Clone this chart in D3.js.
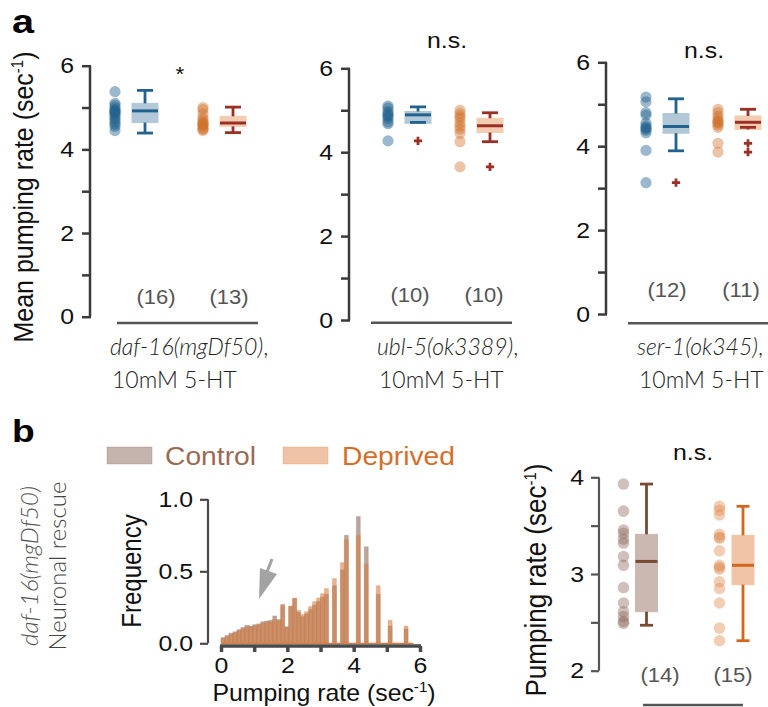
<!DOCTYPE html>
<html>
<head>
<meta charset="utf-8">
<script src="https://cdn.jsdelivr.net/npm/d3@7"></script>
<style>
  body { margin: 0; background: #fff; }
  text { font-family: "Liberation Sans", Arial, sans-serif; }
  .cat { font-family: Lato, "Open Sans", sans-serif; }
</style>
</head>
<body>
<div id="chart"></div>
<script>
// ---- DATA ----
// panel a: three genotypes, control vs deprived (mean pumping rate, sec^-1)
const genotypes = ["daf-16(mgDf50)", "ubl-5(ok3389)", "ser-1(ok345)"];
const sigLabels = ["*", "n.s.", "n.s."];

const ctrlDots = [
  [5.38, 5.1, 5.05, 5.0, 4.95, 4.92, 4.9, 4.88, 4.85, 4.8, 4.75, 4.7, 4.65, 4.6, 4.55, 4.45],
  [5.1, 5.05, 4.97, 4.92, 4.88, 4.85, 4.8, 4.72, 4.68, 4.27],
  [5.17, 5.06, 4.8, 4.74, 4.55, 4.48, 4.44, 4.42, 4.38, 4.32, 3.9, 3.13]
];
const depDots = [
  [5.0, 4.95, 4.85, 4.75, 4.7, 4.65, 4.62, 4.6, 4.58, 4.55, 4.5, 4.48, 4.45],
  [5.0, 4.92, 4.85, 4.8, 4.7, 4.62, 4.55, 4.45, 4.25, 3.65],
  [4.88, 4.8, 4.72, 4.65, 4.6, 4.57, 4.55, 4.5, 4.45, 4.07, 3.86]
];
// [lower whisker, q1, median, q3, upper whisker]
const ctrlBox = [
  [4.39, 4.64, 4.92, 5.1, 5.41],
  [4.71, 4.69, 4.89, 4.97, 5.08],
  [3.89, 4.31, 4.47, 4.78, 5.13]
];
const depBox = [
  [4.4, 4.55, 4.63, 4.79, 5.01],
  [4.25, 4.47, 4.63, 4.81, 4.94],
  [4.45, 4.4, 4.57, 4.72, 4.88]
];
const ctrlOut = [[], [4.27], [3.13]];
const depOut = [[], [3.65], [4.07, 3.86]];

// panel b histogram: bins of 0.12 from 0 to 6
const binWidth = 0.12;
const histCtrl = [0.04, 0.055, 0.07, 0.08, 0.095, 0.11, 0.125, 0.12, 0.13, 0.135,
  0.15, 0.155, 0.16, 0.19, 0.165, 0.27, 0.115, 0.255, 0.31, 0.215,
  0.185, 0.205, 0.235, 0.265, 0.29, 0.32, 0.34, 0, 0.40, 0,
  0.51, 0.75, 0, 0, 0.88, 0, 0.67, 0, 0, 0.34,
  0, 0, 0.12, 0, 0, 0, 0.10, 0, 0, 0];
const histDep = [0.03, 0.045, 0.06, 0.07, 0.085, 0.1, 0.115, 0.11, 0.12, 0.125,
  0.14, 0.145, 0.15, 0.165, 0.155, 0.26, 0.11, 0.26, 0.315, 0.23,
  0.2, 0.22, 0.255, 0.29, 0.315, 0.345, 0.38, 0, 0.45, 0,
  0.56, 0.72, 0, 0, 0.75, 0, 0.55, 0, 0, 0.40,
  0, 0, 0.16, 0, 0, 0, 0.12, 0, 0, 0];

// panel b right: neuronal rescue pumping rate
const rescueCtrl = [3.93, 3.65, 3.455, 3.42, 3.36, 3.32, 3.18, 3.09, 2.86, 2.70, 2.61, 2.56, 2.51, 2.49];
const rescueDep = [3.70, 3.66, 3.61, 3.41, 3.38, 3.37, 3.24, 3.09, 3.07, 3.05, 2.92, 2.85, 2.70, 2.44, 2.31];
const rescueCtrlBox = [2.47, 2.61, 3.13, 3.41, 3.93];
const rescueDepBox = [2.31, 2.89, 3.09, 3.40, 3.70];

// ---- SVG ----
const W = 768, H = 707;
const svg = d3.select("#chart").append("svg")
  .attr("width", W).attr("height", H);

const axisCol = "#3a3a3a";
const SX = 1.13; // the reference's lettering is a bit wider than Arial

// colours
const blue = "#22628e", blueBox = "#b2c8d7";
const orange = "#d0702a", peach = "#f3cdb2", darkRed = "#9b2f26";
const ctrlB = "#8c6a5c", ctrlBBox = "#cbb9b1", ctrlBLine = "#7a4a35";
const depB = "#d67e44", depBBox = "#f0c4a4", depBLine = "#d2671f";

// widen horizontal text by SX around its anchor point
function stretch(sel, s = SX) {
  sel.each(function () {
    const t = d3.select(this);
    const x = +t.attr("x") || 0, y = +t.attr("y") || 0;
    t.attr("x", 0).attr("y", 0).attr("transform", `translate(${x},${y}) scale(${s},1)`);
  });
}

// helper: draw one box with whiskers
function drawBox(g, x, y, st, w, capW, fill, line) {
  const [lo, q1, med, q3, hi] = st;
  g.append("rect")
    .attr("x", x - w / 2).attr("y", y(q3))
    .attr("width", w).attr("height", y(q1) - y(q3))
    .attr("fill", fill).attr("stroke", fill).attr("stroke-width", 1);
  g.append("line").attr("x1", x).attr("x2", x).attr("y1", y(q3)).attr("y2", y(hi))
    .attr("stroke", line).attr("stroke-width", 2.8);
  g.append("line").attr("x1", x).attr("x2", x).attr("y1", y(q1)).attr("y2", y(lo))
    .attr("stroke", line).attr("stroke-width", 2.8);
  [lo, hi].forEach(v => g.append("line")
    .attr("x1", x - capW / 2).attr("x2", x + capW / 2).attr("y1", y(v)).attr("y2", y(v))
    .attr("stroke", line).attr("stroke-width", 2.8));
  g.append("line").attr("x1", x - w / 2).attr("x2", x + w / 2).attr("y1", y(med)).attr("y2", y(med))
    .attr("stroke", line).attr("stroke-width", 3);
}

// ---- PANEL A ----
const layoutA = [
  { axisX: 90, yBot: 316.7, yTop: 65.7, centers: [130, 218], nX: [156, 229], nY: 304, line: [117, 258], lineY: 323, sig: [180, 81], catX: 110 },
  { axisX: 349, yBot: 320, yTop: 68.3, centers: [403, 475], nX: [410, 484], nY: 302, line: [371, 512], lineY: 322.7, sig: [447, 48], catX: 377 },
  { axisX: 606, yBot: 314, yTop: 62.3, centers: [661, 733], nX: [667, 741], nY: 297, line: [628, 770], lineY: 323.3, sig: [704, 58], catX: 637 }
];

layoutA.forEach((L, i) => {
  const g = svg.append("g");
  const y = d3.scaleLinear().domain([0, 6]).range([L.yBot, L.yTop]);

  // y axis
  const ax = g.append("g")
    .attr("transform", `translate(${L.axisX},0)`)
    .call(d3.axisLeft(y).tickValues([0, 1, 2, 3, 4, 5, 6]).tickSize(8).tickPadding(8)
      .tickFormat(d => d % 2 === 0 ? d : ""));
  ax.select(".domain").attr("stroke", axisCol).attr("stroke-width", 2.5).attr("d", `M0,${L.yTop}V${L.yBot}`);
  ax.selectAll(".tick line").attr("stroke", axisCol).attr("stroke-width", 2.5).attr("x1", 1);
  ax.selectAll(".tick text").attr("font-size", 22).attr("fill", "#111")
    .attr("font-family", "Liberation Sans, Arial, sans-serif").call(stretch);

  const groups = [
    { dots: ctrlDots[i], box: ctrlBox[i], out: ctrlOut[i], dotCol: blue, dotOp: 0.45, boxFill: blueBox, line: blue, outCol: darkRed },
    { dots: depDots[i], box: depBox[i], out: depOut[i], dotCol: orange, dotOp: 0.42, boxFill: peach, line: darkRed, outCol: darkRed }
  ];

  groups.forEach((grp, j) => {
    const cx = L.centers[j];
    g.append("g").selectAll("circle").data(grp.dots).join("circle")
      .attr("cx", cx - 15).attr("cy", d => y(d)).attr("r", 5.6)
      .attr("fill", grp.dotCol).attr("fill-opacity", grp.dotOp);
    drawBox(g, cx + 15, y, grp.box, 26, 16, grp.boxFill, grp.line);
    g.append("g").selectAll("path").data(grp.out).join("path")
      .attr("transform", d => `translate(${cx + 15},${y(d)})`)
      .attr("d", d3.symbol(d3.symbolCross, 38))
      .attr("fill", grp.outCol);
    g.append("text")
      .attr("x", L.nX[j]).attr("y", L.nY)
      .attr("text-anchor", "middle").attr("font-size", 19.5).attr("fill", "#555")
      .text(`(${grp.dots.length})`).call(stretch);
  });

  // underline
  g.append("line").attr("x1", L.line[0]).attr("x2", L.line[1]).attr("y1", L.lineY).attr("y2", L.lineY)
    .attr("stroke", "#555").attr("stroke-width", 2.5);

  // significance
  g.append("text").attr("x", L.sig[0]).attr("y", L.sig[1])
    .attr("text-anchor", "middle").attr("font-size", i === 0 ? 20 : 22).attr("fill", "#111")
    .text(sigLabels[i]).call(stretch);

  // category label
  const t = g.append("text").attr("class", "cat").attr("x", L.catX).attr("y", 355)
    .attr("font-size", 23).attr("font-weight", 300).attr("fill", "#222");
  t.append("tspan").attr("font-style", "italic").text(genotypes[i]);
  t.append("tspan").text(",");
  g.append("text").attr("class", "cat").attr("x", L.catX + 2).attr("y", 388)
    .attr("font-size", 23).attr("font-weight", 300).attr("fill", "#222").text("10mM 5-HT");
});

// y label panel a
const yl = svg.append("text")
  .attr("transform", `translate(33,197) rotate(-90) scale(1,${SX})`)
  .attr("text-anchor", "middle").attr("font-size", 25).attr("fill", "#111");
yl.append("tspan").text("Mean pumping rate (sec");
yl.append("tspan").attr("font-size", 15).attr("dy", -9).text("-1");
yl.append("tspan").attr("dy", 9).text(")");

// panel letters
svg.append("text").attr("x", 12).attr("y", 33).attr("font-size", 33).attr("font-weight", "bold").text("a").call(stretch, 1.2);
svg.append("text").attr("x", 12).attr("y", 442).attr("font-size", 31).attr("font-weight", "bold").text("b").call(stretch, 1.2);

// ---- PANEL B: side labels ----
svg.append("text").attr("class", "cat")
  .attr("transform", "translate(38,566) rotate(-90)")
  .attr("text-anchor", "middle").attr("font-size", 24).attr("font-weight", 300).attr("font-style", "italic").attr("fill", "#555")
  .text("daf-16(mgDf50)");
svg.append("text").attr("class", "cat")
  .attr("transform", "translate(66,566) rotate(-90)")
  .attr("text-anchor", "middle").attr("font-size", 24).attr("font-weight", 300).attr("fill", "#444")
  .text("Neuronal rescue");

// ---- PANEL B: histogram ----
const hx = d3.scaleLinear().domain([0, 6]).range([221, 420]);
const hy = d3.scaleLinear().domain([0, 1]).range([643.3, 499.3]);
const hist = svg.append("g");

const series = [
  { vals: histCtrl, col: ctrlB },
  { vals: histDep, col: depB }
];
series.forEach(s => {
  hist.append("g").selectAll("rect").data(s.vals).join("rect")
    .attr("x", (d, k) => hx(k * binWidth))
    .attr("width", hx(binWidth) - hx(0))
    .attr("y", d => hy(d))
    .attr("height", d => hy(0) - hy(d))
    .attr("fill", s.col).attr("fill-opacity", 0.6)
    .attr("stroke", s.col).attr("stroke-opacity", 0.25).attr("stroke-width", 1);
});
// baseline of histogram
hist.append("line").attr("x1", hx(0)).attr("x2", hx(5.8)).attr("y1", hy(0)).attr("y2", hy(0))
  .attr("stroke", depB).attr("stroke-width", 1.2);

// arrow annotation
hist.append("line").attr("x1", 272).attr("y1", 559).attr("x2", 267).attr("y2", 572)
  .attr("stroke", "#a3a3a3").attr("stroke-width", 3);
hist.append("path").attr("d", "M260,568L277,574L259,599Z").attr("fill", "#a3a3a3");

// histogram axes
const hxAx = hist.append("g").attr("transform", "translate(0,646)")
  .call(d3.axisBottom(hx).tickValues([0, 1, 2, 3, 4, 5, 6]).tickSize(6).tickPadding(5)
    .tickFormat(d => d % 2 === 0 ? d : ""));
hxAx.select(".domain").attr("stroke", "#4a4a4a").attr("stroke-width", 3.5).attr("d", `M${hx(0) - 1},0H${hx(6) + 1}`);
hxAx.selectAll(".tick line").attr("stroke", "#4a4a4a").attr("stroke-width", 3.5);
hxAx.selectAll(".tick text").attr("font-size", 22).attr("fill", "#111").call(stretch);

const hyAx = hist.append("g").attr("transform", "translate(208,0)")
  .call(d3.axisLeft(hy).tickValues([0, 0.5, 1]).tickSize(8).tickPadding(7).tickFormat(d3.format(".1f")));
hyAx.select(".domain").attr("stroke", "#4a4a4a").attr("stroke-width", 2.2).attr("d", `M0,${hy(1)}V${hy(0)}`);
hyAx.selectAll(".tick line").attr("stroke", "#4a4a4a").attr("stroke-width", 2.2);
hyAx.selectAll(".tick text").attr("font-size", 22).attr("fill", "#111").call(stretch);

hist.append("text").attr("transform", `translate(141,571) rotate(-90) scale(1,${SX})`)
  .attr("text-anchor", "middle").attr("font-size", 24).attr("fill", "#111").text("Frequency");
const hxl = hist.append("text").attr("x", 324).attr("y", 701)
  .attr("text-anchor", "middle").attr("font-size", 23).attr("fill", "#111");
hxl.append("tspan").text("Pumping rate (sec");
hxl.append("tspan").attr("font-size", 14).attr("dy", -9).text("-1");
hxl.append("tspan").attr("dy", 9).text(")");
hxl.call(stretch, 1.08);

// legend
const legend = svg.append("g");
[["Control", ctrlB, "#9b6a55", 107, 165], ["Deprived", "#e08a4e", "#d4702b", 283, 342]].forEach(([lab, col, tcol, rx, tx]) => {
  legend.append("rect").attr("x", rx).attr("y", 447).attr("width", 45).attr("height", 17)
    .attr("fill", col).attr("fill-opacity", 0.5).attr("stroke", col).attr("stroke-opacity", 0.3);
  legend.append("text").attr("x", tx).attr("y", 465).attr("font-size", 25).attr("fill", tcol).text(lab).call(stretch);
});

// ---- PANEL B: rescue box plot ----
const ry = d3.scaleLinear().domain([2, 4]).range([670.7, 477.3]);
const rg = svg.append("g");
const ryAx = rg.append("g").attr("transform", "translate(599,0)")
  .call(d3.axisLeft(ry).tickValues([2, 2.5, 3, 3.5, 4]).tickSize(8).tickPadding(7)
    .tickFormat(d => Number.isInteger(d) ? d : ""));
ryAx.select(".domain").attr("stroke", "#555").attr("stroke-width", 2.2).attr("d", `M0,${ry(4)}V${ry(2)}`);
ryAx.selectAll(".tick line").attr("stroke", "#555").attr("stroke-width", 2.2);
ryAx.selectAll(".tick text").attr("font-size", 22).attr("fill", "#111").call(stretch);

const rescueGroups = [
  { dots: rescueCtrl, box: rescueCtrlBox, dotX: 623.5, boxX: 646.5, nX: 660, dotCol: ctrlB, boxFill: ctrlBBox, line: ctrlBLine },
  { dots: rescueDep, box: rescueDepBox, dotX: 719.5, boxX: 743, nX: 733, dotCol: "#e08a4e", boxFill: depBBox, line: depBLine }
];
rescueGroups.forEach(grp => {
  rg.append("g").selectAll("circle").data(grp.dots).join("circle")
    .attr("cx", grp.dotX).attr("cy", d => ry(d)).attr("r", 5.8)
    .attr("fill", grp.dotCol).attr("fill-opacity", 0.42);
  drawBox(rg, grp.boxX, ry, grp.box, 22, 13, grp.boxFill, grp.line);
  rg.append("text").attr("x", grp.nX).attr("y", 682).attr("text-anchor", "middle")
    .attr("font-size", 19.5).attr("fill", "#555").text(`(${grp.dots.length})`).call(stretch);
});
rg.append("line").attr("x1", 643).attr("x2", 743).attr("y1", 705).attr("y2", 705)
  .attr("stroke", "#555").attr("stroke-width", 2.5);
rg.append("text").attr("x", 693).attr("y", 460).attr("text-anchor", "middle")
  .attr("font-size", 22).attr("fill", "#111").text("n.s.").call(stretch);
const ryl = rg.append("text").attr("transform", `translate(546,580) rotate(-90) scale(1,${SX})`)
  .attr("text-anchor", "middle").attr("font-size", 26).attr("fill", "#111");
ryl.append("tspan").text("Pumping rate (sec");
ryl.append("tspan").attr("font-size", 15).attr("dy", -9).text("-1");
ryl.append("tspan").attr("dy", 9).text(")");
</script>
</body>
</html>
